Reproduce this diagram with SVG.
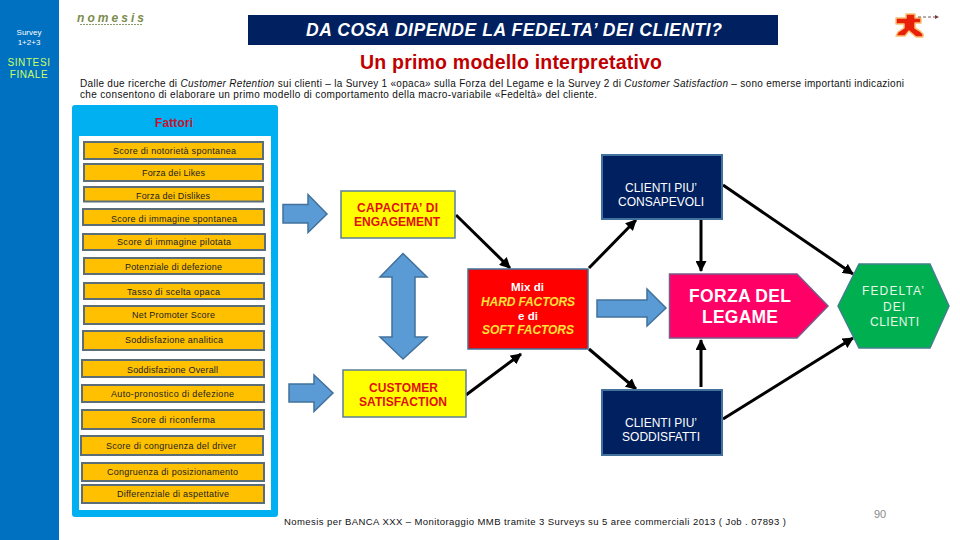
<svg xmlns="http://www.w3.org/2000/svg" width="960" height="540" viewBox="0 0 960 540">
<style>
text{font-family:"Liberation Sans",Arial,sans-serif}
.f rect{fill:#FFC000;stroke:#5B6E78;stroke-width:2}
.f text{font-size:9px;fill:#222;text-anchor:start}
.blk{fill:#5B9BD5;stroke:#41719C;stroke-width:1.5}
.navy{fill:#002060;stroke:#41719C;stroke-width:2}
.yel{fill:#FFFF00;stroke:#5B7F95;stroke-width:1.5}
.yt{font-size:12px;font-weight:bold;fill:#E01010}
.w{font-size:12px;fill:#fff}
.wb{font-size:11.5px;font-weight:bold;fill:#fff}
.hf{font-size:12px;font-weight:bold;font-style:italic;fill:#FFE23A}
.con line{stroke:#000;stroke-width:3;marker-end:url(#ah)}
</style>
<defs>
<marker id="ah" markerUnits="userSpaceOnUse" markerWidth="12" markerHeight="11" refX="10" refY="5.5" orient="auto"><path d="M0,0L11,5.5L0,11z" fill="#000"/></marker>
</defs>
<rect width="960" height="540" fill="#fff"/>
<g id="sidebar">
<rect x="0" y="0" width="59" height="540" fill="#0070C0"/>
<text x="29" y="35" font-size="8" fill="#fff" text-anchor="middle">Survey</text>
<text x="29" y="45" font-size="8" fill="#fff" text-anchor="middle">1+2+3</text>
<text x="29" y="66" font-size="10" fill="#CCFF66" text-anchor="middle" letter-spacing=".6">SINTESI</text>
<text x="29" y="78" font-size="10" fill="#CCFF66" text-anchor="middle" letter-spacing=".6">FINALE</text>
</g>
<g id="logo">
<text x="77" y="22" font-size="12" font-style="italic" font-weight="bold" fill="#7C8C4C" textLength="67" lengthAdjust="spacing">nomesis</text>
<line x1="80" y1="24.500" x2="143" y2="24.500" stroke="#8A9A6A" stroke-width="1" stroke-dasharray="2 1"/>
</g>
<g id="title">
<rect x="248" y="15" width="530" height="30" fill="#002060"/>
<text x="306" y="36" font-size="17.500" font-weight="bold" font-style="italic" fill="#fff" textLength="416" lengthAdjust="spacing">DA COSA DIPENDE LA FEDELTA’ DEI CLIENTI?</text>
</g>
<g id="mascot">
<path d="M906,14H915V18H921V23H915V28L920,31L923,34V37H916L909,31L905,36H896L898,32L904,28V24H896V18H906z" fill="#E8200A" stroke="#F8C070" stroke-width="1.500" stroke-linejoin="round"/>
<line x1="918" y1="17" x2="936" y2="17" stroke="#7A5A50" stroke-width="1" stroke-dasharray="3 2"/>
<path d="M935,15L939,17L935,19z" fill="#7A3A40"/>
</g>
<text id="subtitle" x="360" y="69" font-size="19.500" font-weight="bold" fill="#C00000" textLength="302" lengthAdjust="spacing">Un primo modello interpretativo</text>
<g id="intro" font-size="10" fill="#111">
<text x="80" y="87" textLength="824" lengthAdjust="spacing">Dalle due ricerche di <tspan font-style="italic">Customer Retention</tspan> sui clienti – la Survey 1 «opaca» sulla Forza del Legame e la Survey 2 di <tspan font-style="italic">Customer Satisfaction</tspan> – sono emerse importanti indicazioni</text>
<text x="80" y="98" textLength="517" lengthAdjust="spacing">che consentono di elaborare un primo modello di comportamento della macro-variabile «Fedeltà» del cliente.</text>
</g>
<g id="panel">
<rect x="72" y="105" width="206" height="412" rx="3" fill="#00B0F0"/>
<rect x="79" y="136" width="192" height="374" fill="#fff"/>
<text x="155" y="127" font-size="12" font-weight="bold" fill="#C8102E" textLength="38" lengthAdjust="spacing">Fattori</text>
</g>
<g id="factors" class="f">
<g id="f1"><rect x="84" y="142" width="179" height="17"/><text x="113" y="154" textLength="123">Score di notorietà spontanea</text></g>
<g id="f2"><rect x="84" y="164" width="179" height="17"/><text x="142" y="176" textLength="63">Forza dei Likes</text></g>
<g id="f3"><rect x="84" y="187" width="179" height="14.500"/><text x="136" y="199" textLength="74">Forza dei Dislikes</text></g>
<g id="f4"><rect x="83" y="209" width="181" height="16"/><text x="111" y="222" textLength="126">Score di immagine spontanea</text></g>
<g id="f5"><rect x="83" y="234" width="182" height="16"/><text x="117" y="245" textLength="114">Score di immagine pilotata</text></g>
<g id="f6"><rect x="84" y="258" width="180" height="16"/><text x="125" y="270" textLength="97">Potenziale di defezione</text></g>
<g id="f7"><rect x="84" y="283" width="180" height="16"/><text x="127" y="295" textLength="93">Tasso di scelta opaca</text></g>
<g id="f8"><rect x="84" y="306" width="180" height="18"/><text x="132" y="318" textLength="83">Net Promoter Score</text></g>
<g id="f9"><rect x="83" y="331" width="181" height="19"/><text x="125" y="343" textLength="98">Soddisfazione analitica</text></g>
<g id="f10"><rect x="82" y="360" width="182" height="17"/><text x="127" y="373" textLength="91">Soddisfazione Overall</text></g>
<g id="f11"><rect x="82" y="385" width="182" height="17"/><text x="111" y="397" textLength="123">Auto-pronostico di defezione</text></g>
<g id="f12"><rect x="82" y="410" width="182" height="19"/><text x="131" y="423" textLength="84">Score di riconferma</text></g>
<g id="f13"><rect x="81" y="436" width="182" height="19"/><text x="106" y="449" textLength="130">Score di congruenza del driver</text></g>
<g id="f14"><rect x="82" y="463" width="182" height="18"/><text x="107" y="475" textLength="131">Congruenza di posizionamento</text></g>
<g id="f15"><rect x="82" y="485" width="182" height="18"/><text x="117" y="497" textLength="112">Differenziale di aspettative</text></g>
</g>
<g id="block-arrows">
<path class="blk" d="M283,204.500H308V194.500L327,214L308,232.500V223H283z"/>
<path class="blk" d="M289,384H314V375L333,393L314,411.500V402H289z"/>
<path class="blk" d="M403,253.500L427,277H415V337H427L403,359L380,337H392V277H380z"/>
<path class="blk" d="M597,300H647V289L666,308L647,326V317H597z"/>
</g>
<g id="connectors" class="con">
<line x1="456" y1="215" x2="510" y2="268"/>
<line x1="466" y1="395" x2="521" y2="354"/>
<line x1="589" y1="268" x2="636" y2="220"/>
<line x1="589" y1="349" x2="636" y2="389"/>
<line x1="701" y1="219" x2="701" y2="271"/>
<line x1="701" y1="387" x2="701" y2="340"/>
<line x1="723" y1="185" x2="853" y2="274"/>
<line x1="723" y1="419" x2="853" y2="338"/>
</g>
<g id="capacita"><rect class="yel" x="341" y="191" width="114" height="47"/>
<text class="yt" x="357" y="212" textLength="81" lengthAdjust="spacing">CAPACITA’ DI</text>
<text class="yt" x="354" y="226" textLength="86" lengthAdjust="spacing">ENGAGEMENT</text></g>
<g id="customer"><rect class="yel" x="343" y="370" width="123" height="47"/>
<text class="yt" x="369" y="392" textLength="69" lengthAdjust="spacing">CUSTOMER</text>
<text class="yt" x="359" y="406" textLength="88" lengthAdjust="spacing">SATISFACTION</text></g>
<g id="mix"><rect x="468" y="269" width="120" height="80" fill="#FF0000" stroke="#41719C" stroke-width="1.500"/>
<text class="wb" x="511" y="291" textLength="33" lengthAdjust="spacing">Mix di</text>
<text class="hf" x="481" y="306" textLength="94" lengthAdjust="spacing">HARD FACTORS</text>
<text class="wb" x="518" y="320" textLength="20" lengthAdjust="spacing">e di</text>
<text class="hf" x="482" y="334" textLength="92" lengthAdjust="spacing">SOFT FACTORS</text></g>
<g id="consapevoli"><rect class="navy" x="602" y="155" width="120" height="64"/>
<text class="w" x="625" y="192" textLength="72" lengthAdjust="spacing">CLIENTI PIU’</text>
<text class="w" x="618" y="206" textLength="86" lengthAdjust="spacing">CONSAPEVOLI</text></g>
<g id="soddisfatti"><rect class="navy" x="602" y="390" width="120" height="65"/>
<text class="w" x="625" y="427" textLength="72" lengthAdjust="spacing">CLIENTI PIU’</text>
<text class="w" x="622" y="441" textLength="78" lengthAdjust="spacing">SODDISFATTI</text></g>
<g id="forza"><path d="M669.500,274H797L828,306L797,338H669.500z" fill="#FF0066" stroke="#7A5A8A" stroke-width="1.500"/>
<text x="689" y="302" font-size="17.500" font-weight="bold" fill="#fff" textLength="102" lengthAdjust="spacing">FORZA DEL</text>
<text x="702" y="323" font-size="17.500" font-weight="bold" fill="#fff" textLength="76" lengthAdjust="spacing">LEGAME</text></g>
<g id="fedelta"><path d="M859,264H930L949,306L930,348H859L838,306z" fill="#00B050" stroke="#41808C" stroke-width="1.500"/>
<text x="862" y="295" font-size="12" fill="#E8F6E8" textLength="62" lengthAdjust="spacing">FEDELTA’</text>
<text x="883" y="311" font-size="12" fill="#E8F6E8" textLength="22" lengthAdjust="spacing">DEI</text>
<text x="870" y="326" font-size="12" fill="#E8F6E8" textLength="49" lengthAdjust="spacing">CLIENTI</text></g>
<text id="footer" x="284" y="525" font-size="9.500" fill="#111" textLength="502" lengthAdjust="spacing">Nomesis per BANCA XXX – Monitoraggio MMB tramite 3 Surveys su 5 aree commerciali 2013 ( Job . 07893 )</text>
<text id="page" x="874" y="518" font-size="11" fill="#8A8A8A">90</text>
</svg>
